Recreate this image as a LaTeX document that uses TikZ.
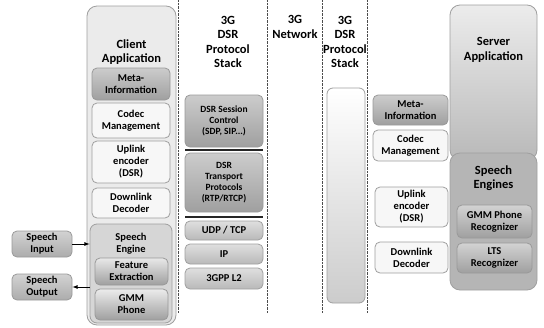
\documentclass[tikz,border=0pt]{standalone}
\usepackage{fontspec}
\setmainfont{Carlito}

\begin{document}
\begin{tikzpicture}[x=1pt, y=-1pt,
    every node/.style={font=\bfseries\fontsize{10.5}{12}\selectfont, align=center, inner sep=0pt},
    appbox/.style={draw=gray!75, thick, rounded corners=10pt},
    lightbox/.style={draw=gray!75, thick, fill=gray!6, rounded corners=5pt},
    midbox/.style={draw=gray!75, thick, top color=gray!25, bottom color=gray!55, rounded corners=5pt},
    darkbox/.style={draw=gray!80, thick, top color=gray!40, bottom color=gray!75, rounded corners=5pt},
    head/.style={font=\bfseries\fontsize{12.5}{14.5}\selectfont},
    sepline/.style={densely dotted, gray!60!black}]

    \useasboundingbox (0,0) rectangle (544,327);

    % Column borders
    \foreach \x in {178,267,322,367}
        \draw[sepline] (\x,0) -- (\x,313);

    % Client side
    \node[appbox, fill=gray!16, minimum width=89pt, minimum height=319pt] (client) at (131.5,165.5) {};
    \node[head] at (131.5,52) {Client\\Application}; % Title inside the box

    \node[darkbox, minimum width=78pt, minimum height=32pt] (cmeta) at (131,84) {Meta-\\Information};
    \node[lightbox, minimum width=78pt, minimum height=35pt] (ccodec) at (131,120.5) {Codec\\Management};
    \node[lightbox, minimum width=78pt, minimum height=42pt] (cup) at (131,162) {Uplink\\encoder\\(DSR)};
    \node[lightbox, minimum width=78pt, minimum height=30pt] (cdown) at (131,203) {Downlink\\Decoder};

    \node[appbox, rounded corners=7pt, fill=gray!32, minimum width=82pt, minimum height=99pt] (ceng) at (131,273.5) {};
    \node at (131,244) {Speech\\Engine}; % Title inside the box
    \node[darkbox, top color=gray!18, minimum width=73pt, minimum height=27pt] (cfeat) at (131.5,271.5) {Feature\\Extraction};
    \node[darkbox, top color=gray!15, minimum width=73pt, minimum height=31pt] (cgmm) at (131.5,304.5) {GMM\\Phone};

    \node[darkbox, top color=gray!35, bottom color=gray!65, minimum width=60pt, minimum height=26pt] (spin) at (42,244) {Speech\\Input};
    \node[darkbox, top color=gray!35, bottom color=gray!65, minimum width=60pt, minimum height=26pt] (spout) at (42,287) {Speech\\Output};

    \draw[-latex, thick] (spin) -- (spin -| ceng.west);
    \draw[-latex, thick] (ceng.west |- spout) -- (spout);

    % Protocol stack (client)
    \node[head] (hstack) at (228,42) {3G\\DSR\\Protocol\\Stack};
    \node[darkbox, font=\bfseries\fontsize{9.5}{11}\selectfont, minimum width=78pt, minimum height=52pt] (sess) at (224,121) {DSR Session\\Control\\(SDP, SIP...)};
    \draw[very thick, gray!30!black] (185,150) -- (263,150);
    \node[darkbox, font=\bfseries\fontsize{9.5}{11}\selectfont, minimum width=78pt, minimum height=59pt] (trans) at (224,182.5) {DSR\\Transport\\Protocols\\(RTP/RTCP)};
    \draw[very thick, gray!30!black] (185,217) -- (263,217);
    \node[midbox, minimum width=78pt, minimum height=19pt] (udp) at (224,230.5) {UDP / TCP};
    \node[midbox, minimum width=78pt, minimum height=20pt] (ip) at (224,254) {IP};
    \node[midbox, minimum width=78pt, minimum height=21pt] (ltwo) at (224,278.5) {3GPP L2};

    % Network
    \node[head] (hnet) at (295,27) {3G\\Network};

    % Protocol stack (server)
    \node[head] (hstackr) at (345,42) {3G\\DSR\\Protocol\\Stack};
    \node[appbox, rounded corners=6pt, top color=white, bottom color=gray!40, minimum width=38pt, minimum height=215pt] (rstack) at (346,195.5) {};

    % Server side
    \node[darkbox, minimum width=75pt, minimum height=30pt] (rmeta) at (410.5,110) {Meta-\\Information};
    \node[lightbox, minimum width=75pt, minimum height=31pt] (rcodec) at (410.5,145.5) {Codec\\Management};
    \node[lightbox, minimum width=73pt, minimum height=40pt] (rup) at (411.5,207) {Uplink\\encoder\\(DSR)};
    \node[lightbox, minimum width=73pt, minimum height=31pt] (rdown) at (411.5,257.5) {Downlink\\Decoder};

    \node[appbox, top color=gray!15, bottom color=gray!55, minimum width=87pt, minimum height=155pt] (server) at (493.5,82.5) {};
    \node[head] at (493.5,50) {Server\\Application}; % Title inside the box

    \node[appbox, fill=gray!58, minimum width=87pt, minimum height=137pt] (reng) at (493.5,221.5) {};
    \node[head] at (493.5,178) {Speech\\Engines}; % Title inside the box
    \node[darkbox, top color=gray!35, bottom color=gray!75, minimum width=75pt, minimum height=33pt] (rgmm) at (494.5,221.5) {GMM Phone\\Recognizer};
    \node[darkbox, top color=gray!35, bottom color=gray!75, minimum width=75pt, minimum height=30pt] (rlts) at (494.5,258) {LTS\\Recognizer};

\end{tikzpicture}
\end{document}
